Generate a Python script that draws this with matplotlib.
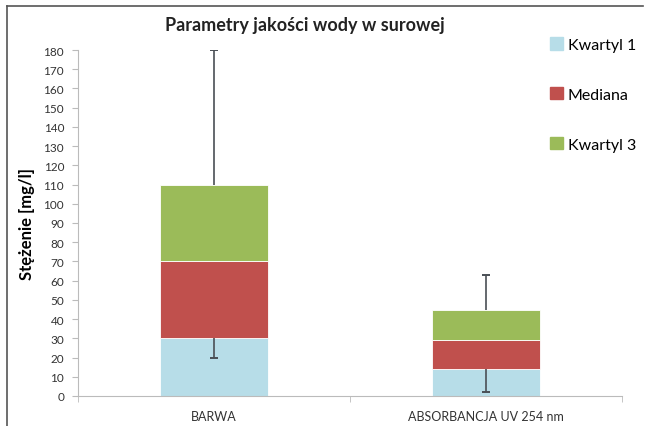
import numpy as np
import matplotlib
matplotlib.use("Agg")
import matplotlib.pyplot as plt
from matplotlib.patches import Patch
from matplotlib.lines import Line2D

categories = ["BARWA", "ABSORBANCJA UV 254 nm"]
kwartyl1 = [30, 14]
mediana = [40, 15]
kwartyl3 = [40, 16]
minimum = [20, 2]
maximum = [180, 63]
yticks = list(range(0, 181, 10))

plt.rcParams['font.family'] = ['Lato', 'DejaVu Sans']

fig = plt.figure(figsize=(6.47, 4.27), dpi=100)
ax = fig.add_axes([78 / 647, 1 - 397 / 427, 544 / 647, 346 / 427])

x = np.arange(len(categories))
k1 = np.array(kwartyl1)
med = np.array(mediana)
k3 = np.array(kwartyl3)
top = k1 + med + k3

width = 0.4
ax.bar(x, k1, width, color='#b7dde8', edgecolor='white', linewidth=0.6, zorder=2)
ax.bar(x, med, width, bottom=k1, color='#c0504d', edgecolor='white', linewidth=0.6, zorder=2)
ax.bar(x, k3, width, bottom=k1 + med, color='#9bbb59', edgecolor='white', linewidth=0.6, zorder=2)

# whiskers: min below Q1 top, max above Q3 top, caps only at the far ends
wc = '#4a4f55'
ax.vlines(x, minimum, k1, color=wc, lw=1.2, zorder=3)
ax.vlines(x, top, maximum, color=wc, lw=1.2, zorder=3)
ax.plot(x, minimum, ls='none', marker='_', ms=6, mew=1.4, color=wc, zorder=3)
ax.plot(x, maximum, ls='none', marker='_', ms=6, mew=1.4, color=wc, zorder=3)

ax.set_xlim(-0.5, 1.5)
ax.set_ylim(0, 180)
ax.set_yticks(yticks)
ax.tick_params(axis='y', labelsize=8.5, colors='#bbbbbb', labelcolor='#333333',
               length=4, direction='out', pad=6)
ax.set_xticks(x)
ax.set_xticklabels(categories, fontsize=9, color='#333333')
ax.tick_params(axis='x', length=0, pad=10)
ax.set_xticks([-0.5, 0.5, 1.5], minor=True)
ax.tick_params(axis='x', which='minor', length=4, colors='#bbbbbb')

for s in ['top', 'right']:
    ax.spines[s].set_visible(False)
for s in ['left', 'bottom']:
    ax.spines[s].set_color('#bbbbbb')

ax.set_ylabel('Stężenie [mg/l]', fontsize=12, fontweight='bold', labelpad=6)
fig.text(305 / 647, 1 - 25 / 427, 'Parametry jakości wody w surowej',
         fontsize=13, fontweight='bold', ha='center', va='center', color='#222222')

handles = [Patch(color='#b7dde8'), Patch(color='#c0504d'), Patch(color='#9bbb59')]
fig.legend(handles, ['Kwartyl 1', 'Mediana', 'Kwartyl 3'], loc='upper left',
           bbox_to_anchor=(536 / 647, 1 - 24 / 427), frameon=False, fontsize=11.5,
           handlelength=0.8, handleheight=0.8, handletextpad=0.3, labelspacing=2.2)

# outer frame (left and top edges visible)
fig.add_artist(Line2D([7 / 647, 7 / 647], [0, 1 - 7 / 427], transform=fig.transFigure,
                      color='#555555', lw=1.2))
fig.add_artist(Line2D([7 / 647, 643 / 647], [1 - 7 / 427, 1 - 7 / 427],
                      transform=fig.transFigure, color='#555555', lw=1.2))

fig.savefig('out.png', dpi=100)
